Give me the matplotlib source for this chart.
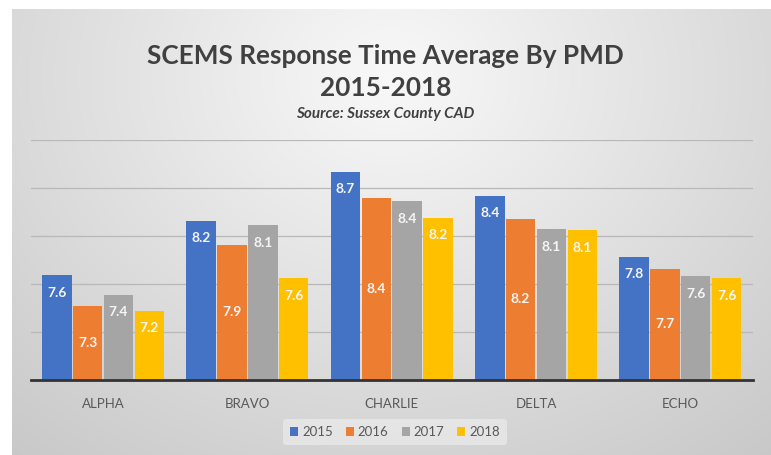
import numpy as np
import matplotlib
matplotlib.use('Agg')
import matplotlib.pyplot as plt
from matplotlib.patches import Patch

plt.rcParams['font.family'] = ['Lato', 'DejaVu Sans']

# data
districts = ['ALPHA', 'BRAVO', 'CHARLIE', 'DELTA', 'ECHO']
years = ['2015', '2016', '2017', '2018']
t2015 = [7.59, 8.16, 8.67, 8.42, 7.78]
t2016 = [7.27, 7.91, 8.40, 8.18, 7.66]
t2017 = [7.39, 8.11, 8.36, 8.07, 7.58]
t2018 = [7.22, 7.56, 8.19, 8.06, 7.56]
series = [t2015, t2016, t2017, t2018]
colors = ['#4472C4', '#ED7D31', '#A5A5A5', '#FFC000']

W, H = 771, 455
fig = plt.figure(figsize=(W/100, H/100), dpi=100)
fig.patch.set_facecolor('white')

# gray gradient backdrop
bg = fig.add_axes([12/W, 0, 1-12/W, (H-9)/H])
gx, gy = np.meshgrid(np.linspace(0, 1, 300), np.linspace(0, 1, 200))
r = np.sqrt(((gx-0.5)/0.7)**2 + ((gy-0.15)/1.0)**2)
shade = np.clip(0.975 - 0.17*r, 0.78, 0.98)
bg.imshow(np.dstack([shade]*3), aspect='auto', extent=[0, 1, 1, 0])
bg.set_axis_off()

ax = fig.add_axes([31/W, (H-380)/H, (752.5-31)/W, 240/H])
ax.patch.set_alpha(0)

x = np.arange(len(districts))
slot = 0.2136
bw = 0.204
for i, (vals, c) in enumerate(zip(series, colors)):
    xs = x + (i-1.5)*slot
    bars = ax.bar(xs, vals, bw, color=c, zorder=3)
    for b, v in zip(bars, vals):
        if i == 1:
            ypos = (6.5 + v)/2
        else:
            ypos = v - 0.18
        ax.text(b.get_x()+b.get_width()/2, ypos, f'{v:.1f}', ha='center', va='center',
                color='#f5f5f5', fontsize=10, fontweight='bold', zorder=4)

ax.set_ylim(6.5, 9.0)
ax.set_xlim(-0.5, 4.5)
ax.set_yticks([7.0, 7.5, 8.0, 8.5, 9.0])
ax.yaxis.grid(True, color='#b8b8b8', linewidth=0.9, zorder=0)
ax.tick_params(axis='y', left=False, labelleft=False)
ax.set_xticks(x)
ax.set_xticklabels(districts, fontsize=9.5, color='#595959')
ax.tick_params(axis='x', length=0, pad=13)
for s in ['top', 'right', 'left']:
    ax.spines[s].set_visible(False)
ax.spines['bottom'].set_color('#333333')
ax.spines['bottom'].set_linewidth(2)
ax.spines['bottom'].set_zorder(5)

handles = [Patch(facecolor=c, label=y) for c, y in zip(colors, years)]
leg = fig.legend(handles=handles, loc='center', bbox_to_anchor=(395/W, 1-432/H), ncol=4,
                 frameon=True, fontsize=9.5, handlelength=0.6, handleheight=0.6,
                 handletextpad=0.3, columnspacing=1.0, borderpad=0.5)
leg.get_frame().set_facecolor('#e9e9e9')
leg.get_frame().set_edgecolor('none')
leg.get_frame().set_alpha(0.8)
for t in leg.get_texts():
    t.set_color('#595959')

fig.text(0.5, 1-56/H, 'SCEMS Response Time Average By PMD', ha='center', va='center',
         fontsize=18.8, fontweight='bold', color='#404040')
fig.text(0.5, 1-88/H, '2015-2018', ha='center', va='center',
         fontsize=18.8, fontweight='bold', color='#404040')
fig.text(0.5, 1-114/H, 'Source: Sussex County CAD', ha='center', va='center',
         fontsize=11, fontweight='bold', fontstyle='italic', color='#404040')

plt.savefig('out.png', dpi=100)
